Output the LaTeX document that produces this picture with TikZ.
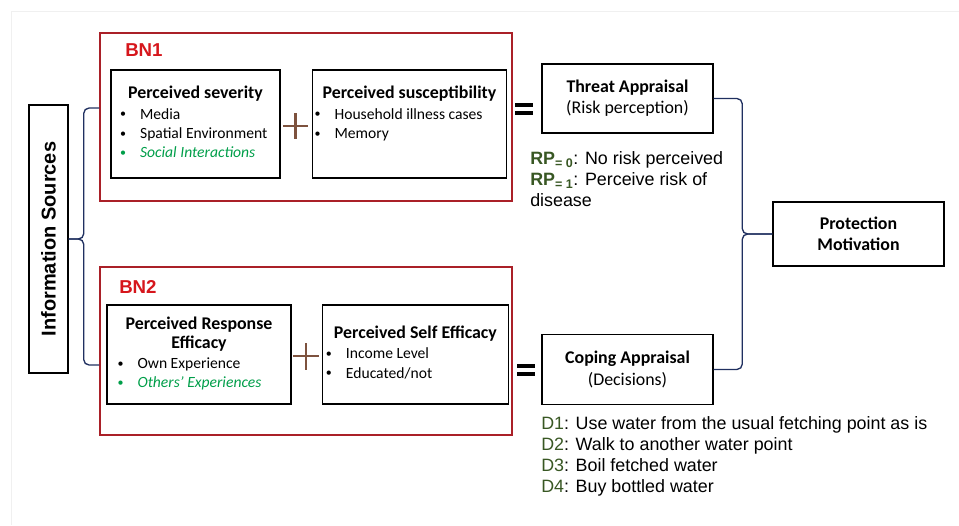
\documentclass[tikz,border=0pt]{standalone}
\usepackage{fontspec}
\setmainfont{Carlito}
\newfontfamily\arial{Liberation Sans}
\usetikzlibrary{positioning, calc}
\definecolor{bnred}{RGB}{214,22,28}
\definecolor{frame}{RGB}{170,32,40}
\definecolor{leaf}{RGB}{0,158,73}
\definecolor{olive}{RGB}{56,87,35}
\definecolor{navy}{RGB}{32,48,96}
\definecolor{umber}{RGB}{125,82,62}
\newcommand{\bul}[1]{\makebox[15pt][l]{\raisebox{1pt}{\fontsize{9}{9}\selectfont\textbullet}}#1}
\newcommand{\hd}[1]{\multicolumn{1}{c}{\fontsize{13.4}{16}\selectfont\bfseries #1}}

\begin{document}
\begin{tikzpicture}[x=0.75pt, y=-0.75pt, align=center,
    blk/.style={draw, line width=1.1pt, inner sep=0pt, font=\fontsize{13.4}{15.8}\selectfont},
    lst/.style={blk, font=\fontsize{11.7}{14.3}\selectfont},
    grp/.style={draw=frame, line width=1.1pt, inner sep=0pt, minimum width=309pt, minimum height=126pt},
    brc/.style={draw=navy, line width=1pt, rounded corners=4pt},
    sym/.style={line width=2.2pt, umber},
    eq/.style={line width=3pt},
    tag/.style={font=\arial\bfseries\fontsize{14}{16}\selectfont, text=bnred, anchor=west, inner sep=0pt},
    note/.style={font=\arial\fontsize{13.4}{15.75}\selectfont, align=left, inner sep=0pt, anchor=north west}
]
    \useasboundingbox (0,0) rectangle (959,525);
    \draw[gray!12] (11,525) -- (11,11) -- (959,11);

    % information sources
    \node[blk, rotate=90, minimum width=201pt, minimum height=29.25pt,
          font=\arial\bfseries\fontsize{15}{17}\selectfont] (info) at (48.5,239) {Information Sources};

    % BN1
    \node[grp] (bn1) at (306,117) {};
    \node[tag] (t1) at (125,50) {BN1};
    \node[lst, minimum width=126.75pt, minimum height=81pt] (sev) at (195.5,124)
        {\begin{tabular}{@{}l@{}}\hd{Perceived severity}\\[1.5pt]
         \bul{Media}\\ \bul{Spatial Environment}\\
         \color{leaf}\bul{\itshape Social Interactions}\end{tabular}};
    \node[lst, right=23.25pt of sev, minimum width=145.5pt, minimum height=81pt] (sus)
        {\begin{tabular}{@{}l@{}}\hd{Perceived susceptibility}\\[1.5pt]
         \bul{Household illness cases}\\ \bul{Memory}\\ \mbox{}\end{tabular}};

    % BN2
    \node[grp] (bn2) at (306,351) {};
    \node[tag] (t2) at (119,287) {BN2};
    \node[lst, minimum width=138pt, minimum height=74.25pt] (resp) at (199,354.5)
        {\begin{tabular}{@{}l@{}}\hd{Perceived Response}\\ \hd{Efficacy}\\[1pt]
         \bul{Own Experience}\\
         \color{leaf}\bul{\itshape Others’ Experiences}\end{tabular}};
    \node[lst, right=22.5pt of resp, minimum width=139.5pt, minimum height=74.25pt] (self)
        {\begin{tabular}{@{}l@{}}\hd{Perceived Self Efficacy}\\[1pt]
         \bul{Income Level}\\ \bul{Educated/not}\end{tabular}};

    % appraisals
    \node[blk, minimum width=128.25pt, minimum height=51.75pt] (ta) at (627.5,98.5)
        {\textbf{Threat Appraisal}\\(Risk perception)};
    \node[blk, below=150pt of ta, minimum width=128.25pt, minimum height=52.5pt] (ca)
        {\textbf{Coping Appraisal}\\(Decisions)};
    \node[blk, minimum width=128.25pt, minimum height=48pt] (pm) at (858.5,234)
        {\textbf{Protection}\\\textbf{Motivation}};

    \node[note] (rp) at (530,151)
        {\textcolor{olive}{\bfseries RP\textsubscript{= 0}}: No risk perceived\\
         \textcolor{olive}{\bfseries RP\textsubscript{= 1}}: Perceive risk of\\disease};
    \node[note] (dl) at (541,416)
        {\textcolor{olive}{D1}: Use water from the usual fetching point as is\\
         \textcolor{olive}{D2}: Walk to another water point\\
         \textcolor{olive}{D3}: Boil fetched water\\
         \textcolor{olive}{D4}: Buy bottled water};

    % plus and equals
    \draw[sym] (283,126) -- (308,126) (295.5,113) -- (295.5,139);
    \draw[sym] (293,356) -- (319,356) (306,343) -- (306,370);
    \draw[eq] (515,105) -- (533,105) (515,113) -- (533,113);
    \draw[eq] (517,366) -- (535,366) (517,374) -- (535,374);

    % braces
    \draw[brc] ([yshift=6.75pt]bn1.west) -| ([xshift=11.25pt]info.south) -- (info.south);
    \draw[brc] ([yshift=-10.5pt]bn2.west) -| ([xshift=11.25pt]info.south) -- (info.south);
    \draw[brc] (ta.east) -| ([xshift=-22.5pt]pm.west) -- (pm.west);
    \draw[brc] (ca.east) -| ([xshift=-22.5pt]pm.west) -- (pm.west);
\end{tikzpicture}
\end{document}
